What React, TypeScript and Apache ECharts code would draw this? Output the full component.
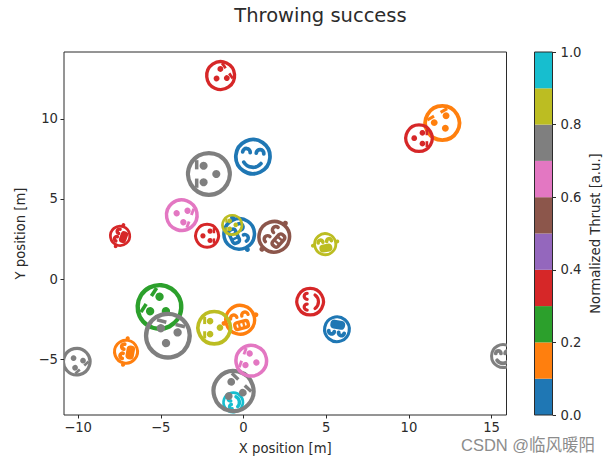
import React, { useEffect, useRef } from "react";
import * as echarts from "echarts";

// Throws, in drawing order
const xPosition = [-1.38, 0.57, -2.09, -3.73, -7.46, -2.2, -0.26, -0.68, 1.86, 4.94, 12.02, 10.61, -5.08, -4.57, -0.2, -1.77, -7.1, -10.08, -0.62, -0.6, 0.47, 4.03, 5.65, 15.69];
const yPosition = [12.7, 7.64, 6.56, 3.99, 2.7, 2.7, 2.82, 3.38, 2.64, 2.18, 9.74, 8.79, -1.74, -3.53, -2.54, -3.03, -4.53, -5.15, -7.69, -6.98, -5.09, -1.41, -3.13, -4.8];
const thrust = [0.35, 0.05, 0.75, 0.65, 0.35, 0.35, 0.05, 0.85, 0.55, 0.85, 0.15, 0.35, 0.25, 0.75, 0.15, 0.85, 0.15, 0.75, 0.95, 0.75, 0.65, 0.35, 0.05, 0.75];
const skill = [0.65, 0.79, 0.96, 0.71, 0.46, 0.54, 0.71, 0.46, 0.71, 0.5, 0.79, 0.62, 1, 1, 0.67, 0.75, 0.54, 0.62, 0.46, 0.92, 0.71, 0.62, 0.58, 0.54];
const takeoffAngle = [-55, -5, 90, -110, 70, -90, -65, 90, 48, 10, 30, -90, 57, -14, 15, 90, 80, -138, 100, -43, 70, 90, 170, 0];
// 0: dots and bars, 1: smile, 2: toothy grin, 3: toothy grin without ears
const hits = [0, 1, 0, 0, 2, 0, 2, 0, 2, 2, 0, 0, 0, 0, 2, 0, 2, 0, 1, 0, 0, 1, 3, 1];

const tab10 = ["#1f77b4", "#ff7f0e", "#2ca02c", "#d62728", "#9467bd", "#8c564b", "#e377c2", "#7f7f7f", "#bcbd22", "#17becf"];
const colorBins = tab10.map((_, i) => [i / 10, (i + 1) / 10]);
const xTicks = [-10, -5, 0, 5, 10, 15];
const yTicks = [-5, 0, 5, 10];
const FULL_SKILL_RADIUS = 24;
const FONT = "'DejaVu Sans'";
const INK = "#2b2b2b";
const TEXT_SIZE = 13.2;

const minus = (v: number) => String(v).replace("-", "\u2212");

function faceParts(kind: number, r: number, color: string) {
  const w = 0.13 * r + 1.3;
  const small = r < 14;
  const inner = small ? w * 1.25 : w;
  const line = { stroke: color, fill: "none", lineWidth: inner, lineCap: "round" };
  const parts: any[] = [
    { type: "circle", shape: { cx: 0, cy: 0, r: r - w / 2 }, style: { fill: "none", stroke: color, lineWidth: w } },
  ];
  const dot = (cx: number, cy: number) => ({
    type: "circle",
    shape: { cx: cx * r, cy: cy * r, r: 0.14 * r + 0.8 },
    style: { fill: color },
  });
  const eye = (cx: number) => ({
    type: "arc",
    shape: { cx: cx * r, cy: -0.2 * r, r: 0.2 * r, startAngle: Math.PI, endAngle: 2 * Math.PI, clockwise: true },
    style: line,
  });
  if (kind === 0) {
    parts.push(dot(-0.36, -0.23), dot(0.36, -0.23), dot(0, 0.32));
    [-0.4, 0.4].forEach((cx) =>
      parts.push({
        type: "line",
        shape: { x1: (cx - 0.2) * r, y1: -0.53 * r, x2: (cx + 0.2) * r, y2: -0.53 * r },
        style: { stroke: color, lineWidth: 0.11 * r + 1 },
      })
    );
  } else if (kind === 1) {
    parts.push(eye(-0.36), eye(0.36), {
      type: "arc",
      shape: { cx: 0, cy: 0, r: 0.56 * r, startAngle: 0.2 * Math.PI, endAngle: 0.8 * Math.PI, clockwise: true },
      style: line,
    });
  } else {
    parts.push(
      eye(-0.36),
      eye(0.36),
      { type: "rect", shape: { x: -0.42 * r, y: 0.12 * r, width: 0.84 * r, height: 0.42 * r, r: 0.15 * r }, style: { fill: small ? color : "none", stroke: color, lineWidth: w } },
      { type: "line", shape: { x1: -0.14 * r, y1: 0.12 * r, x2: -0.14 * r, y2: 0.54 * r }, style: { stroke: color, lineWidth: w * 0.7 } },
      { type: "line", shape: { x1: 0.14 * r, y1: 0.12 * r, x2: 0.14 * r, y2: 0.54 * r }, style: { stroke: color, lineWidth: w * 0.7 } }
    );
    if (kind === 2) {
      parts.push(
        { type: "circle", shape: { cx: -1.03 * r, cy: -0.05 * r, r: 0.1 * r + 0.8 }, style: { fill: color } },
        { type: "circle", shape: { cx: 1.03 * r, cy: -0.05 * r, r: 0.1 * r + 0.8 }, style: { fill: color } }
      );
    }
  }
  return parts;
}

export default function App() {
  const ref = useRef<HTMLDivElement>(null);
  useEffect(() => {
    const chart = echarts.init(ref.current!, undefined, { renderer: "svg" });
    const tickFont = { color: INK, fontFamily: FONT, fontSize: TEXT_SIZE };
    const nameFont = { color: INK, fontFamily: FONT, fontSize: TEXT_SIZE };
    const throws = xPosition.map((x, i) => [x, yPosition[i], thrust[i], skill[i], takeoffAngle[i], hits[i]]);
    chart.setOption({
      animation: false,
      backgroundColor: "#fff",
      title: {
        text: "Throwing success",
        left: 315.5,
        top: 0,
        textAlign: "center",
        textStyle: { fontFamily: FONT, fontSize: 19.5, fontWeight: "normal", color: INK },
      },
      grid: [
        { left: 64, top: 52, right: 105.5, bottom: 47, show: true, borderColor: INK, borderWidth: 1, backgroundColor: "transparent" },
        { left: 534.5, top: 52, width: 18, bottom: 47, show: false },
      ],
      xAxis: [
        {
          gridIndex: 0,
          type: "value",
          min: -10.85,
          max: 15.9,
          name: "X position [m]",
          nameLocation: "middle",
          nameGap: 27,
          nameTextStyle: nameFont,
          splitLine: { show: false },
          axisLine: { show: false, onZero: false },
          axisTick: { show: true, length: 3.5, customValues: xTicks, lineStyle: { color: INK } },
          axisLabel: { ...tickFont, margin: 6, customValues: xTicks, formatter: minus },
        },
        { gridIndex: 1, type: "value", min: 0, max: 1, show: false },
      ],
      yAxis: [
        {
          gridIndex: 0,
          type: "value",
          min: -8.48,
          max: 14.17,
          name: "Y position [m]",
          nameLocation: "middle",
          nameRotate: 90,
          nameGap: 37,
          nameTextStyle: nameFont,
          splitLine: { show: false },
          axisLine: { show: false, onZero: false },
          axisTick: { show: true, length: 3.5, customValues: yTicks, lineStyle: { color: INK } },
          axisLabel: { ...tickFont, margin: 6, customValues: yTicks, formatter: minus },
        },
        {
          gridIndex: 1,
          type: "value",
          position: "right",
          min: 0,
          max: 1,
          interval: 0.2,
          name: "Normalized Thrust [a.u.]",
          nameLocation: "middle",
          nameRotate: 90,
          nameGap: 36,
          nameTextStyle: nameFont,
          splitLine: { show: false },
          axisLine: { show: false, onZero: false },
          axisTick: { show: true, length: 3.5, lineStyle: { color: INK } },
          axisLabel: { ...tickFont, margin: 8, formatter: (v: number) => v.toFixed(1) },
        },
      ],
      series: [
        {
          type: "custom",
          xAxisIndex: 0,
          yAxisIndex: 0,
          clip: true,
          silent: true,
          data: throws,
          renderItem: (_: any, api: any) => {
            const [cx, cy] = api.coord([api.value(0), api.value(1)]);
            const color = tab10[Math.floor(api.value(2) * 10)];
            const r = api.value(3) * FULL_SKILL_RADIUS;
            return {
              type: "group",
              x: cx,
              y: cy,
              rotation: (api.value(4) * Math.PI) / 180,
              children: faceParts(api.value(5), r, color),
            };
          },
        },
        {
          type: "custom",
          xAxisIndex: 1,
          yAxisIndex: 1,
          silent: true,
          data: colorBins,
          renderItem: (params: any, api: any) => {
            const lo = api.coord([0, api.value(0)]);
            const hi = api.coord([1, api.value(1)]);
            return {
              type: "rect",
              shape: { x: lo[0], y: hi[1], width: hi[0] - lo[0], height: lo[1] - hi[1] },
              style: { fill: tab10[params.dataIndex] },
            };
          },
        },
      ],
      graphic: [
        { type: "rect", z: 100, shape: { x: 534.5, y: 52, width: 18, height: 363 }, style: { fill: "none", stroke: INK, lineWidth: 1 } },
        {
          type: "text",
          z: 100,
          left: 461,
          top: 437,
          style: {
            text: "CSDN @临风暖阳",
            fontSize: 16.5,
            fontFamily: "'Liberation Sans', 'Noto Sans CJK SC'",
            fill: "#8c8c8c",
          },
        },
      ],
    });
    return () => chart.dispose();
  }, []);
  return <div ref={ref} style={{ position: "absolute", left: 0, top: 0, width: 612, height: 462 }} />;
}
